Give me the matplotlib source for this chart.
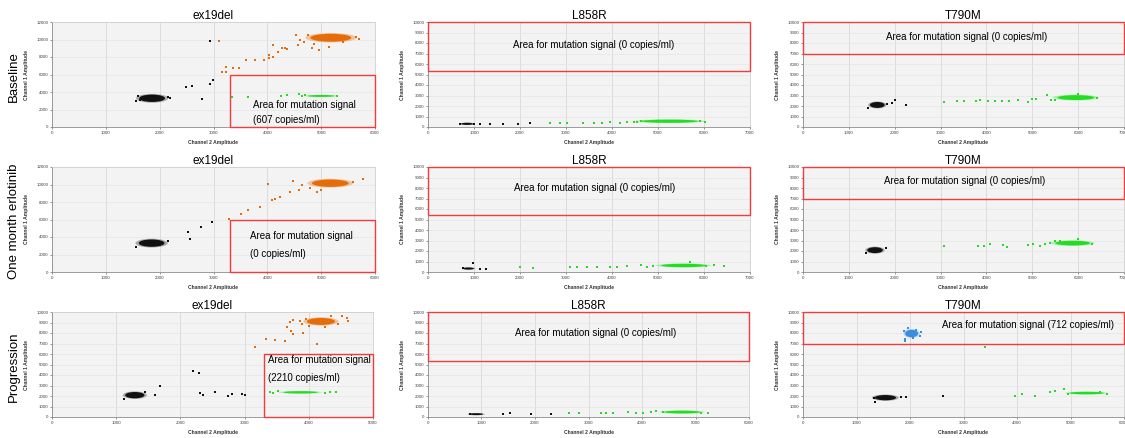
import matplotlib
matplotlib.use('Agg')
import matplotlib.pyplot as plt
from matplotlib.patches import Ellipse, Rectangle
from matplotlib.ticker import MultipleLocator

plt.rcParams['font.family'] = ['Liberation Sans', 'DejaVu Sans']

ROW_LABELS = ['Baseline', 'One month erlotinib', 'Progression']
COL_TITLES = ['ex19del', 'L858R', 'T790M']

X_MAX = [[6000, 7000, 7000], [6000, 7000, 7000], [5000, 6000, 6000]]
Y_MAX = [[12000, 10000, 10000], [12000, 10000, 10000], [10000, 10000, 10000]]
Y_STEP = [[2000, 1000, 1000], [2000, 1000, 1000], [1000, 1000, 1000]]

# gate rectangles: (x0, x1, y0, y1)
GATES = [
    [(3300, 6000, 0, 6000), (0, 7000, 5350, 10000), (0, 7000, 7000, 10000)],
    [(3300, 6000, 0, 6000), (0, 7000, 5400, 10000), (0, 7000, 7000, 10000)],
    [(3300, 5000, 0, 6000), (0, 6000, 5300, 10000), (0, 6000, 7000, 10000)],
]
COPIES = [[607, 0, 0], [0, 0, 0], [2210, 0, 712]]

# dense droplet clusters: (colour, centre x, centre y, half width, half height)
CORES = [
    [
        [('black', 1860, 3280, 240, 420), ('orange', 5180, 10200, 380, 450), ('green', 5000, 3550, 250, 110)],
        [('black', 850, 300, 130, 100), ('green', 5250, 550, 620, 150)],
        [('black', 1620, 2100, 160, 280), ('green', 5950, 2800, 400, 230)],
    ],
    [
        [('black', 1850, 3300, 240, 420), ('orange', 5170, 10150, 340, 420)],
        [('black', 880, 330, 120, 100), ('green', 5550, 620, 480, 160)],
        [('black', 1570, 2080, 170, 280), ('green', 5880, 2750, 380, 220)],
    ],
    [
        [('black', 1290, 2080, 150, 300), ('orange', 4190, 9100, 220, 330), ('green', 3870, 2350, 270, 110)],
        [('black', 900, 270, 130, 90), ('green', 4750, 470, 340, 130)],
        [('blue', 2030, 7950, 120, 350), ('black', 1540, 1840, 200, 250), ('green', 5300, 2280, 320, 120)],
    ],
]

# sparse droplets (x, y)
B_EX19_BLACK = [(2490, 4520), (2600, 4710), (2790, 3150), (2940, 4900), (2990, 5400), (2940, 9810),
                (1560, 2950), (1640, 3050), (2150, 3450), (2200, 3300), (1600, 3550)]
B_EX19_ORANGE = [(3110, 9880), (4525, 10460), (4605, 9960), (4680, 9770), (4570, 9390), (4370, 8930),
                 (4275, 9000), (4195, 8540), (4110, 8050), (4030, 7930), (3930, 7660), (3780, 7660),
                 (3470, 6700), (3360, 6780), (3240, 6820), (3240, 6250), (3160, 6320), (4835, 9000),
                 (4960, 8810), (5150, 9200), (4870, 9460), (4110, 9350), (4330, 9080), (3610, 7620),
                 (4040, 8240), (5650, 10300), (5700, 10100), (4750, 10500), (5400, 9700)]
B_EX19_GREEN = [(3340, 3410), (3650, 3410), (4250, 3500), (4360, 3640), (4590, 3790), (4650, 3500),
                (5300, 3500), (4700, 3700)]

B_L858_BLACK = [(1130, 320), (1340, 300), (1640, 320), (1960, 320), (2220, 360), (690, 320), (1010, 280)]
B_L858_GREEN = [(2650, 360), (2870, 380), (3020, 400), (3380, 420), (3600, 380), (3780, 420), (3960, 450),
                (4180, 420), (4320, 480), (4470, 520), (4550, 450), (5920, 560), (6030, 520), (4620, 600)]

B_T790_BLACK = [(2000, 2560), (2255, 2080), (1950, 2300), (1420, 1850), (1830, 2200)]
B_T790_GREEN = [(3080, 2340), (3350, 2470), (3500, 2470), (3770, 2470), (3860, 2530), (4040, 2470),
                (4180, 2470), (4350, 2470), (4500, 2470), (4690, 2560), (4910, 2370), (5000, 2690),
                (5090, 2690), (5310, 3010), (5400, 2600), (6420, 2800), (6000, 3100), (5500, 2550)]

M_EX19_BLACK = [(2520, 4550), (2570, 3730), (2760, 5090), (2980, 5710), (1560, 2900), (2150, 3600)]
M_EX19_ORANGE = [(4480, 10420), (4640, 9960), (4580, 9390), (4420, 9200), (4240, 8620), (4140, 8350),
                 (4080, 8240), (4020, 10040), (3870, 7470), (3650, 7090), (3510, 6630), (3280, 6050),
                 (5780, 10610), (4920, 9200), (4800, 9600), (5600, 10300), (5000, 9400)]

M_L858_BLACK = [(980, 900), (1130, 320), (1260, 300), (760, 380)]
M_L858_GREEN = [(2000, 450), (2290, 420), (3090, 450), (3230, 510), (3450, 450), (3670, 430), (3960, 450),
                (4110, 430), (4320, 580), (4620, 640), (4760, 480), (6210, 620), (6430, 600), (5700, 1000),
                (6050, 560), (4900, 560)]

M_T790_BLACK = [(1800, 2300), (1380, 1850)]
M_T790_GREEN = [(3080, 2500), (3820, 2470), (3940, 2470), (4070, 2690), (4360, 2560), (4440, 2400),
                (4910, 2560), (5020, 2660), (5160, 2500), (5270, 2630), (5380, 2790), (5490, 2950),
                (6000, 3150), (6300, 2700), (5600, 3000)]

P_EX19_BLACK = [(1610, 2080), (1690, 3000), (2200, 4410), (2290, 4150), (2310, 2300), (2350, 2080),
                (2540, 2360), (2740, 2040), (2810, 2200), (2960, 2200), (3000, 2140), (1120, 1750),
                (1450, 2350)]
P_EX19_ORANGE = [(3700, 9010), (3760, 9265), (3860, 9105), (3890, 8880), (3660, 8530), (3730, 8150),
                 (3760, 7890), (3910, 7990), (4120, 6965), (3630, 7280), (3470, 7350), (3340, 7410),
                 (3160, 6645), (4590, 9425), (4610, 9105), (4510, 9585), (4350, 9650), (4000, 8700),
                 (4450, 8900), (4250, 8600), (3950, 9300)]
P_EX19_GREEN = [(3390, 2400), (3450, 2300), (4330, 2380), (4430, 2400), (4250, 2300), (3520, 2450)]

P_L858_BLACK = [(1410, 260), (1530, 380), (1930, 320), (2300, 300), (780, 330)]
P_L858_GREEN = [(2640, 380), (2820, 350), (3240, 380), (3330, 350), (3460, 380), (3740, 480), (3890, 380),
                (4020, 380), (4170, 480), (4270, 580), (5230, 380), (5100, 420), (4400, 520)]

P_T790_BLUE = [(1900, 7440), (1915, 7280), (2180, 7690), (2120, 8330), (1880, 8200), (2200, 8050),
               (1960, 8500), (2060, 7500)]
P_T790_BLACK = [(1340, 1440), (1840, 1920), (1930, 1860), (2620, 1990), (1330, 1800)]
P_T790_GREEN = [(3400, 6700), (3960, 1990), (4090, 2180), (4340, 1990), (4620, 2340), (4710, 2500),
                (4870, 2630), (5680, 2200), (5550, 2350), (4950, 2200)]

POINTS = [
    [{'black': B_EX19_BLACK, 'orange': B_EX19_ORANGE, 'green': B_EX19_GREEN},
     {'black': B_L858_BLACK, 'green': B_L858_GREEN},
     {'black': B_T790_BLACK, 'green': B_T790_GREEN}],
    [{'black': M_EX19_BLACK, 'orange': M_EX19_ORANGE},
     {'black': M_L858_BLACK, 'green': M_L858_GREEN},
     {'black': M_T790_BLACK, 'green': M_T790_GREEN}],
    [{'black': P_EX19_BLACK, 'orange': P_EX19_ORANGE, 'green': P_EX19_GREEN},
     {'black': P_L858_BLACK, 'green': P_L858_GREEN},
     {'blue': P_T790_BLUE, 'black': P_T790_BLACK, 'green': P_T790_GREEN}],
]

COLORS = {'black': '#111111', 'orange': '#E46C0A', 'green': '#22DD22', 'blue': '#3A8EE0'}
FRINGE = {'black': '#555555', 'orange': '#EE8A3A', 'green': '#55EE55', 'blue': '#6AAAEE'}

# label placement in data units: (x, y, ha) per panel; ex19del uses two lines
LABEL_POS = [
    [[(3740, 2570), (3740, 840)], (3610, 7850, 'center'), (3570, 8560, 'center')],
    [[(3680, 4140), (3680, 2110)], (3630, 8000, 'center'), (3530, 8650, 'center')],
    [[(3365, 5430), (3365, 3740)], (3130, 8010, 'center'), (2590, 8720, 'left')],
]

W, H = 1125, 438
COL_L = [52, 428, 803]
COL_R = [[375, 750, 1124], [375, 750, 1124], [373, 749, 1124]]
ROW_T = [22, 167, 312]
AX_H = 105

fig = plt.figure(figsize=(W / 100, H / 100), dpi=100)

for r in range(3):
    for c in range(3):
        left = COL_L[c]
        width = COL_R[r][c] - left
        ax = fig.add_axes([left / W, 1 - (ROW_T[r] + AX_H) / H, width / W, AX_H / H])
        ax.set_facecolor('#F3F3F3')
        ax.set_xlim(0, X_MAX[r][c])
        ax.set_ylim(0, Y_MAX[r][c])
        ax.xaxis.set_major_locator(MultipleLocator(1000))
        ax.yaxis.set_major_locator(MultipleLocator(Y_STEP[r][c]))
        ax.grid(True, axis='x', color='#D8D8D8', lw=0.6)
        ax.grid(True, axis='y', color='#E6E6E6', lw=0.5)
        ax.set_axisbelow(True)
        for s in ['left', 'bottom']:
            ax.spines[s].set_color('#8C8C8C')
            ax.spines[s].set_linewidth(0.6)
        for s in ['top', 'right']:
            ax.spines[s].set_color('#CFCFCF')
            ax.spines[s].set_linewidth(0.6)
        ax.tick_params(labelsize=3.2, length=1.2, width=0.4, pad=1.5, colors='#444444')

        # clusters
        for col, cx, cy, rx, ry in CORES[r][c]:
            ax.add_patch(Ellipse((cx, cy), 2.5 * rx, 2.4 * ry, color=FRINGE[col], alpha=0.45, lw=0, zorder=2))
            ax.add_patch(Ellipse((cx, cy), 2 * rx, 2 * ry, color=COLORS[col], lw=0, zorder=3))
        for col, pts in POINTS[r][c].items():
            xs = [p[0] for p in pts]
            ys = [p[1] for p in pts]
            ax.scatter(xs, ys, s=1.2, marker='s', color=COLORS[col], lw=0, zorder=4)

        # gate
        x0, x1, y0, y1 = GATES[r][c]
        ax.add_patch(Rectangle((x0, y0), x1 - x0, y1 - y0, fill=False, ec='#F03C3C', lw=1.0,
                               zorder=5, clip_on=False))
        lp = LABEL_POS[r][c]
        if c == 0:
            ax.text(lp[0][0], lp[0][1], 'Area for mutation signal', fontsize=7, va='center', zorder=6)
            ax.text(lp[1][0], lp[1][1], '({} copies/ml)'.format(COPIES[r][c]), fontsize=7, va='center', zorder=6)
        else:
            ax.text(lp[0], lp[1], 'Area for mutation signal ({} copies/ml)'.format(COPIES[r][c]),
                    fontsize=7, ha=lp[2], va='center', zorder=6)

        ax.set_title(COL_TITLES[c], fontsize=8.5, pad=2)
        ax.set_xlabel('Channel 2 Amplitude', fontsize=3.6, fontweight='bold', color='#333333')
        ax.set_ylabel('Channel 1 Amplitude', fontsize=3.6, fontweight='bold', color='#333333')
        ax.xaxis.set_label_coords(0.5, -13 / AX_H)
        ax.yaxis.set_label_coords(-23 / width, 0.5)

for r in range(3):
    yc = 1 - (ROW_T[r] + AX_H / 2 + 2) / H
    fig.text(14 / W, yc, ROW_LABELS[r], rotation=90, fontsize=9.5, ha='center', va='center')

fig.savefig('out.png', dpi=100)
